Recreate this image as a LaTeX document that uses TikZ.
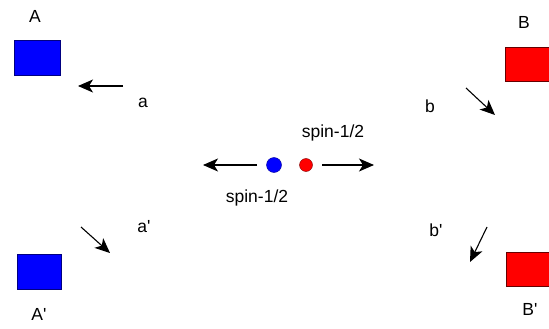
\documentclass[tikz,border=0pt]{standalone}
\usepackage{fontspec}
\setmainfont{Liberation Sans}
\usetikzlibrary{arrows.meta}
\tikzset{
  bluebox/.style={draw=blue!50!black,fill=blue,line width=0.8pt},
  redbox/.style={draw=red!40!black,fill=red,line width=0.8pt},
  lbl/.style={font=\fontsize{17.5}{20}\selectfont,inner sep=0pt},
  arr/.style={line width=1.1pt,arrows={-Stealth[length=15pt,width=13pt,inset=4pt]}}}
\begin{document}
\begin{tikzpicture}[x=1pt,y=-1pt]
\useasboundingbox (0,0) rectangle (549,329);
\fill[white] (0,0) rectangle (549,329);
% boxes
\path[bluebox] (14,40) rectangle (60,75);
\path[bluebox] (17,254) rectangle (61,289);
\path[redbox] (505,47) rectangle (552,81);
\path[redbox] (506,252) rectangle (552,286);
\node[lbl] (lA) at (35,16) {A};
\node[lbl] (lAp) at (39,314) {A\textquotesingle};
\node[lbl] (lB) at (524,22) {B};
\node[lbl] (lBp) at (530,309) {B\textquotesingle};
% arrow labels
\node[lbl] (la) at (143,103) {a};
\node[lbl] (lap) at (144,227) {a\textquotesingle};
\node[lbl] (lb) at (430,106) {b};
\node[lbl] (lbp) at (436,230) {b\textquotesingle};
% arrows
\coordinate (a1) at (123,86); \coordinate (a2) at (78,86);
\coordinate (b1) at (466,88); \coordinate (b2) at (495,115);
\coordinate (c1) at (81,227); \coordinate (c2) at (110,253);
\coordinate (d1) at (487,227); \coordinate (d2) at (470,262);
\draw[arr] (a1) -- (a2);
\draw[arr] (b1) -- (b2);
\draw[arr] (c1) -- (c2);
\draw[arr] (d1) -- (d2);
% particles
\node[circle,fill=blue,draw=blue!60!black,minimum size=15pt,inner sep=0pt] (pb) at (274,165) {};
\node[circle,fill=red,draw=red!50!black,minimum size=13pt,inner sep=0pt] (pr) at (306,165) {};
\coordinate (l1) at (257,165);
\coordinate (l2) at (203,165);
\coordinate (r1) at (322,165);
\coordinate (r2) at (374,165);
\draw[arr] (l1) -- (l2);
\draw[arr] (r1) -- (r2);
\node[lbl] (s1) at (333,133) {spin-1/2};
\node[lbl] (s2) at (257,198) {spin-1/2};
\end{tikzpicture}
\end{document}
